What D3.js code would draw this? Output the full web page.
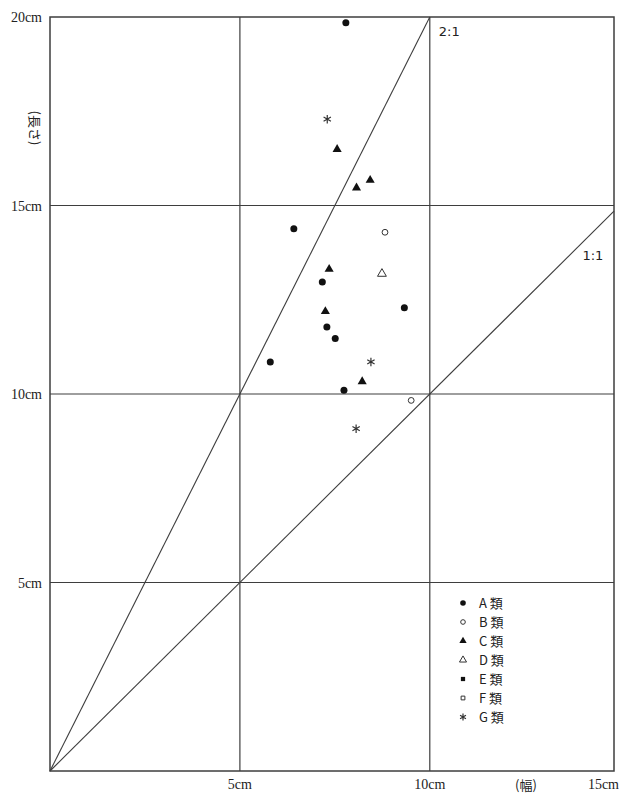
<!DOCTYPE html>
<html>
<head>
<meta charset="utf-8">
<script src="https://cdn.jsdelivr.net/npm/d3@7"></script>
<style>
  body { margin: 0; background: #fff; }
  svg text { fill: #222; }
</style>
</head>
<body>
<div id="chart"></div>
<script>
// points, [幅, 長さ] in cm, by group
var groupA = [[7.79, 19.85], [6.42, 14.38], [7.17, 12.97], [9.33, 12.29], [7.29, 11.78], [7.51, 11.47], [5.80, 10.85], [7.74, 10.10]]
var groupB = [[8.82, 14.29], [9.51, 9.83]]
var groupC = [[7.56, 16.49], [8.43, 15.67], [8.07, 15.47], [7.35, 13.31], [7.25, 12.19], [8.22, 10.33]]
var groupD = [[8.74, 13.19]]
var groupE = []
var groupF = []
var groupG = [[7.30, 17.29], [8.45, 10.85], [8.06, 9.08]]

var legendLabels = ["A 類", "B 類", "C 類", "D 類", "E 類", "F 類", "G 類"]
var xTicks = [5, 10, 15]
var yTicks = [5, 10, 15, 20]
var ratios = [{k: 2, label: "2:1"}, {k: 1, label: "1:1"}]

var w = 619, h = 794
// plot frame (window.top is taken, so p-prefixed names)
var pLeft = 50, pRight = 614, pTop = 17, pBottom = 771
var xMax = 14.85

var svg = d3.select("#chart").append("svg")
  .attr("width", w)
  .attr("height", h)

var x = d3.scaleLinear().domain([0, xMax]).range([pLeft, pRight])
var y = d3.scaleLinear().domain([0, 20]).range([pBottom, pTop])

var lineColor = "#3e3e3e"

// grid
var grid = svg.append("g")
grid.selectAll(".vx").data([5, 10]).join("line")
  .attr("x1", d => x(d)).attr("x2", d => x(d))
  .attr("y1", pTop).attr("y2", pBottom)
  .attr("stroke", lineColor).attr("stroke-width", 1.2)
grid.selectAll(".hy").data([5, 10, 15]).join("line")
  .attr("x1", pLeft).attr("x2", pRight)
  .attr("y1", d => y(d)).attr("y2", d => y(d))
  .attr("stroke", lineColor).attr("stroke-width", 1.2)
grid.append("rect")
  .attr("x", pLeft).attr("y", pTop)
  .attr("width", pRight - pLeft).attr("height", pBottom - pTop)
  .attr("fill", "none").attr("stroke", lineColor).attr("stroke-width", 1.5)

// ratio lines
ratios.forEach(function(r) {
  var xEnd = Math.min(xMax, 20 / r.k)
  grid.append("line")
    .attr("x1", x(0)).attr("y1", y(0))
    .attr("x2", x(xEnd)).attr("y2", y(xEnd * r.k))
    .attr("stroke", lineColor).attr("stroke-width", 1.1)
})
svg.append("text").attr("x", x(10) + 9).attr("y", y(19.5))
  .attr("font-family", "'DejaVu Sans', sans-serif").attr("font-size", 13)
  .text(ratios[0].label)
svg.append("text").attr("x", x(14.02)).attr("y", y(13.55))
  .attr("font-family", "'DejaVu Sans', sans-serif").attr("font-size", 13)
  .text(ratios[1].label)

// axis labels
var serif = "'Liberation Serif', 'DejaVu Serif', serif"
svg.selectAll(".yl").data(yTicks).join("text")
  .attr("x", 42).attr("y", d => y(d) + 5)
  .attr("text-anchor", "end")
  .attr("font-family", serif).attr("font-size", 14)
  .text(d => d + "cm")
svg.selectAll(".xl").data(xTicks).join("text")
  .attr("x", d => d == 15 ? 619 : x(d))
  .attr("y", 789)
  .attr("text-anchor", d => d == 15 ? "end" : "middle")
  .attr("font-family", serif).attr("font-size", 14)
  .text(d => d + "cm")
svg.append("text")
  .attr("x", 526).attr("y", 790)
  .attr("text-anchor", "middle")
  .attr("font-family", "'Noto Sans CJK JP', serif").attr("font-size", 13)
  .text("(幅)")
svg.append("text")
  .attr("transform", "translate(30,128) rotate(90)")
  .attr("text-anchor", "middle")
  .attr("font-family", "'Noto Sans CJK JP', serif").attr("font-size", 13)
  .text("(長さ)")

// markers
var triangle = d3.symbol().type(d3.symbolTriangle)
var square = d3.symbol().type(d3.symbolSquare)
var star = d3.symbol().type(d3.symbolAsterisk)

function drawMarker(g, type, scale) {
  var s = scale || 1
  if (type == 0) g.append("circle").attr("r", 3.5 * s).attr("fill", "#111")
  if (type == 1) g.append("circle").attr("r", 2.9 * s).attr("fill", "#fff").attr("stroke", "#333").attr("stroke-width", 1)
  if (type == 2) g.append("path").attr("d", triangle.size(36 * s * s)()).attr("fill", "#111")
  if (type == 3) g.append("path").attr("d", triangle.size(34 * s * s)()).attr("fill", "#fff").attr("stroke", "#333").attr("stroke-width", 1)
  if (type == 4) g.append("path").attr("d", square.size(28 * s * s)()).attr("fill", "#111")
  if (type == 5) g.append("path").attr("d", square.size(22 * s * s)()).attr("fill", "#fff").attr("stroke", "#333").attr("stroke-width", 1)
  if (type == 6) g.append("path").attr("d", star.size(50 * s * s)()).attr("fill", "none").attr("stroke", "#333").attr("stroke-width", 1.2)
}

var groups = [groupA, groupB, groupC, groupD, groupE, groupF, groupG]
groups.forEach(function(pts, gi) {
  pts.forEach(function(p) {
    var g = svg.append("g").attr("transform", "translate(" + x(p[0]) + "," + y(p[1]) + ")")
    drawMarker(g, gi)
  })
})

// legend
var legend = svg.append("g").attr("transform", "translate(463,603)")
legendLabels.forEach(function(lab, i) {
  var row = legend.append("g").attr("transform", "translate(0," + (i * 19) + ")")
  drawMarker(row, i, 0.8)
  row.append("text").attr("x", 16).attr("y", 5)
    .attr("font-family", "'Noto Sans CJK JP', sans-serif").attr("font-size", 13)
    .text(lab)
})
</script>
</body>
</html>
